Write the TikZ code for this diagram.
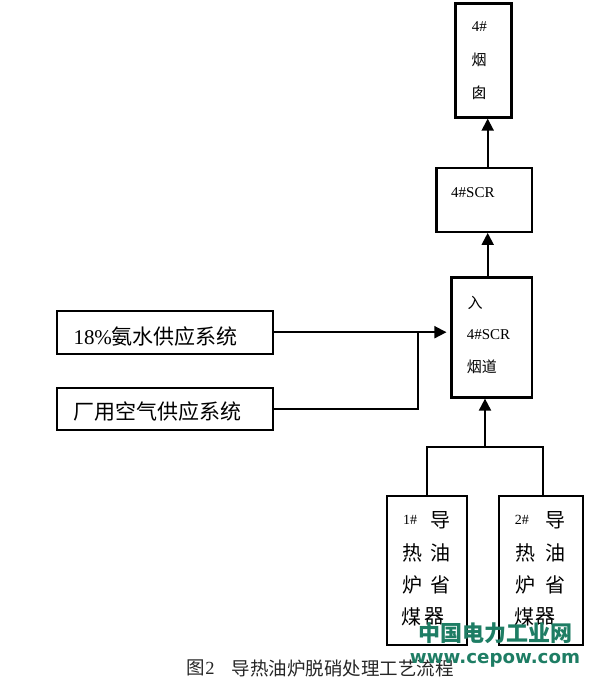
\documentclass[tikz,border=0pt]{standalone}
\usepackage{fontspec}
\setmainfont{Liberation Serif}
\newfontfamily\cjk{Noto Sans CJK SC}
\newfontfamily\wmfont{DejaVu Sans}
\usetikzlibrary{arrows.meta}
\definecolor{wmgreen}{RGB}{30,125,100}
\begin{document}
\begin{tikzpicture}[x=1pt,y=-1pt,
  box/.style={draw, line width=2.2pt, inner sep=0pt, fill=white},
  conn/.style={line width=1.9pt},
  arr/.style={line width=1.9pt, -{Triangle[length=12pt,width=12pt]}},
  t15/.style={font=\fontsize{15}{18}\selectfont, inner sep=0pt},
  t21/.style={font=\fontsize{21}{24}\selectfont, inner sep=0pt},
  t20/.style={font=\fontsize{20}{24}\selectfont\cjk, inner sep=0pt},
  t14/.style={font=\fontsize{14}{16}\selectfont, inner sep=0pt},
  captext/.style={font=\fontsize{18.5}{22}\selectfont, inner sep=0pt, text=black!85},
  wm/.style={inner sep=0pt, text=wmgreen}]
\useasboundingbox (0,0) rectangle (595,689);
% boxes
\node[box, minimum width=56pt, minimum height=114pt] (chim) at (483.5,60.5) {};
\node[box, minimum width=95.5pt, minimum height=64pt] (scr) at (484.2,199.8) {};
\node[box, minimum width=80.5pt, minimum height=120pt] (entry) at (491.8,337.5) {};
\node[box, minimum width=216pt, minimum height=43pt] (amm) at (164.7,332.2) {};
\node[box, minimum width=216pt, minimum height=42pt] (air) at (164.7,409.3) {};
\node[box, minimum width=80pt, minimum height=149pt] (b1) at (426.7,570.4) {};
\node[box, minimum width=84pt, minimum height=149pt] (b2) at (540.8,570.4) {};
% helper coordinates
\coordinate (ax) at (487.7,0);
\coordinate (j) at (417.7,332.2);
\coordinate (bj) at (485,447);
\coordinate (b2top) at (543.3,495.9);
% connectors
\draw[arr] (scr.north -| ax) -- (chim.south -| ax);
\draw[arr] (entry.north -| ax) -- (scr.south -| ax);
\draw[arr, shorten >=4pt] (amm.east) -- (entry.west |- amm.east);
\draw[conn] (air.east) -| (j);
\draw[conn] (b1.north) |- (bj) -| (b2top);
\draw[arr] (bj) -- (entry.south -| bj);
% texts
\node[t15] (c1) at (479.3,27) {4\#};
\node[t15] (c2) at (479,60) {\cjk 烟};
\node[t15] (c3) at (479,93) {\cjk 囱};
\node[t15, anchor=west] (s1) at (451,192.7) {4\#SCR};
\node[t15] (e1) at (475,303.3) {\cjk 入};
\node[t15, anchor=west] (e2) at (466.7,335) {4\#SCR};
\node[t15, anchor=west] (e3) at (466.7,366.7) {\cjk 烟道};
\node[t21, anchor=west] (at) at (73.3,336.7) {18\%{\cjk 氨水供应系统}};
\node[t21, anchor=west] (rt) at (73.3,411.7) {\cjk 厂用空气供应系统};
% boiler 1
\node[t14] (p1) at (410,520) {1\#};
\node[t20] (p2) at (440,520) {导};
\node[t20] (p3) at (412.7,553.3) {热};
\node[t20] (p4) at (440,553.3) {油};
\node[t20] (p5) at (412.7,585) {炉};
\node[t20] (p6) at (440,585) {省};
\node[t20] (p7) at (411.7,616.7) {煤};
\node[t20] (p8) at (434,616.7) {器};
% boiler 2
\node[t14] (q1) at (521.8,520) {2\#};
\node[t20] (q2) at (555.5,520) {导};
\node[t20] (q3) at (525,553.3) {热};
\node[t20] (q4) at (555,553.3) {油};
\node[t20] (q5) at (525,585) {炉};
\node[t20] (q6) at (555,585) {省};
\node[t20] (q7) at (524,616.7) {煤};
\node[t20] (q8) at (545,616.7) {器};
% caption
\node[captext, anchor=west] (cap1) at (186.7,668.3) {{\cjk 图}2};
\node[captext, anchor=west] (cap2) at (231.7,668.3) {\cjk 导热油炉脱硝处理工艺流程};
% watermark
\node[wm, font=\fontsize{22}{26}\selectfont\cjk\bfseries] (wm1) at (495.8,633.3) {中国电力工业网};
\node[wm] (wm2) at (495,660) {\resizebox{170pt}{!}{\wmfont\bfseries\fontsize{16}{18}\selectfont www.cepow.com}};
\end{tikzpicture}
\end{document}
